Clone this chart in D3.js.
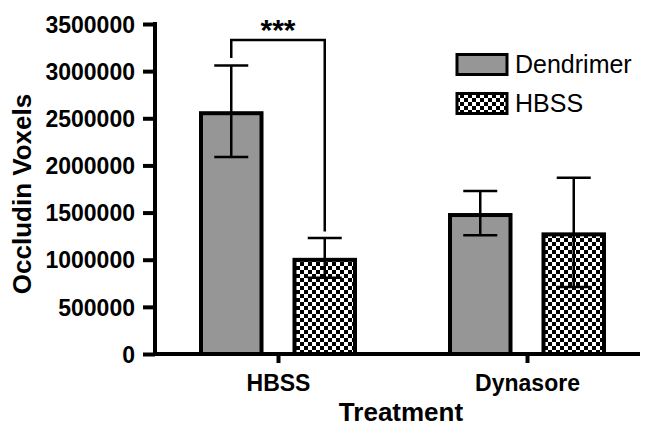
<!DOCTYPE html>
<html><head><meta charset="utf-8">
<script src="https://cdn.jsdelivr.net/npm/d3@7"></script>
<style>body{margin:0;background:#fff}svg{display:block;font-family:"Liberation Sans",Arial,sans-serif}</style>
</head><body><svg id="c" width="650" height="427"></svg>
<script>
const categories = ["HBSS", "Dynasore"];
const seriesNames = ["Dendrimer", "HBSS"];
const dendrimerMean = [2575000, 1495000];
const dendrimerErr = [485000, 235000];
const hbssMean = [1020000, 1290000];
const hbssErr = [210000, 580000];
const yTicks = [0, 500000, 1000000, 1500000, 2000000, 2500000, 3000000, 3500000];
const sigBracket = {top: 3330000, leftEnd: 3140000, rightEnd: 1300000, label: "***"};

const svg = d3.select("#c");
const defs = svg.append("defs");
const pat = defs.append("pattern").attr("id","checker").attr("patternUnits","userSpaceOnUse")
  .attr("width",8).attr("height",8).attr("x",0).attr("y",2);
pat.append("rect").attr("width",8).attr("height",8).attr("fill","#fff");
pat.append("rect").attr("width",4).attr("height",4).attr("fill","#000");
pat.append("rect").attr("x",4).attr("y",4).attr("width",4).attr("height",4).attr("fill","#000");

const fills = ["#969696", "url(#checker)"];
const y = d3.scaleLinear().domain([0, 3500000]).range([354, 24]);
const x0 = d3.scalePoint().domain(categories).range([278, 527]);
const x1 = d3.scaleBand().domain(seriesNames).range([-79, 79]).paddingInner(0.31).paddingOuter(0);

const data = [];
categories.forEach((c,i)=>{
  data.push({cat:c, s:"Dendrimer", v:dendrimerMean[i], e:dendrimerErr[i]});
  data.push({cat:c, s:"HBSS", v:hbssMean[i], e:hbssErr[i]});
});

// bars
svg.append("g").selectAll("rect").data(data).join("rect")
  .attr("x", d => x0(d.cat) + x1(d.s) + 2)
  .attr("width", x1.bandwidth() - 4)
  .attr("y", d => y(d.v) + 2)
  .attr("height", d => y(0) - y(d.v) - 2)
  .attr("fill", d => fills[seriesNames.indexOf(d.s)])
  .attr("stroke", "#000").attr("stroke-width", 4);

// error bars
const eg = svg.append("g").attr("stroke","#000").attr("stroke-width",2.5);
data.forEach(d => {
  const cx = x0(d.cat) + x1(d.s) + x1.bandwidth()/2;
  eg.append("line").attr("x1",cx).attr("x2",cx).attr("y1",y(d.v+d.e)).attr("y2",y(d.v-d.e));
  [d.v+d.e, d.v-d.e].forEach(v => eg.append("line").attr("x1",cx-17).attr("x2",cx+17).attr("y1",y(v)).attr("y2",y(v)));
});

// significance bracket
const lx = x0(categories[0]) + x1(seriesNames[0]) + x1.bandwidth()/2;
const rx = x0(categories[0]) + x1(seriesNames[1]) + x1.bandwidth()/2;
svg.append("path").attr("fill","none").attr("stroke","#000").attr("stroke-width",2.5)
  .attr("d", `M${lx},${y(sigBracket.leftEnd)}V${y(sigBracket.top)}H${rx}V${y(sigBracket.rightEnd)}`);
svg.append("text").attr("x",(lx+rx)/2).attr("y",y(sigBracket.top)).attr("text-anchor","middle")
  .attr("font-size",30).attr("font-weight","bold").text(sigBracket.label);

// y axis
const ya = svg.append("g").attr("transform","translate(155,0)")
  .call(d3.axisLeft(y).tickValues(yTicks).tickFormat(d3.format("d")).tickSize(12).tickPadding(8).tickSizeOuter(0));
ya.select(".domain").attr("stroke-width",4).attr("d",`M0,${y(3500000)-2}V${y(0)+2}`);
ya.selectAll(".tick line").attr("stroke-width",4);
ya.selectAll(".tick text").attr("font-size",23).attr("font-weight","bold").attr("fill","#000")
  .attr("font-family","'Liberation Sans',Arial,sans-serif").attr("dy","0.36em");

// x axis
const xa = svg.append("g").attr("transform",`translate(0,${y(0)})`)
  .call(d3.axisBottom(x0).tickSize(9).tickPadding(12).tickSizeOuter(0));
xa.select(".domain").attr("stroke-width",4).attr("d","M153,0H640");
xa.selectAll(".tick line").attr("stroke-width",4);
xa.selectAll(".tick text").attr("font-size",23).attr("font-weight","bold").attr("fill","#000")
  .attr("font-family","'Liberation Sans',Arial,sans-serif");

// axis titles
svg.append("text").attr("x",401).attr("y",421).attr("text-anchor","middle")
  .attr("font-size",26).attr("font-weight","bold").text("Treatment");
svg.append("text").attr("transform","translate(31,194) rotate(-90)").attr("text-anchor","middle")
  .attr("font-size",26).attr("font-weight","bold").text("Occludin Voxels");

// legend
const lg = svg.append("g");
seriesNames.forEach((s,i)=>{
  const ly = 53 + i*39;
  lg.append("rect").attr("x",457).attr("y",ly+1.5).attr("width",50).attr("height",20)
    .attr("fill",fills[i]).attr("stroke","#000").attr("stroke-width",3);
  lg.append("text").attr("x",515).attr("y",ly+20).attr("font-size",25).text(s);
});
</script></body></html>
